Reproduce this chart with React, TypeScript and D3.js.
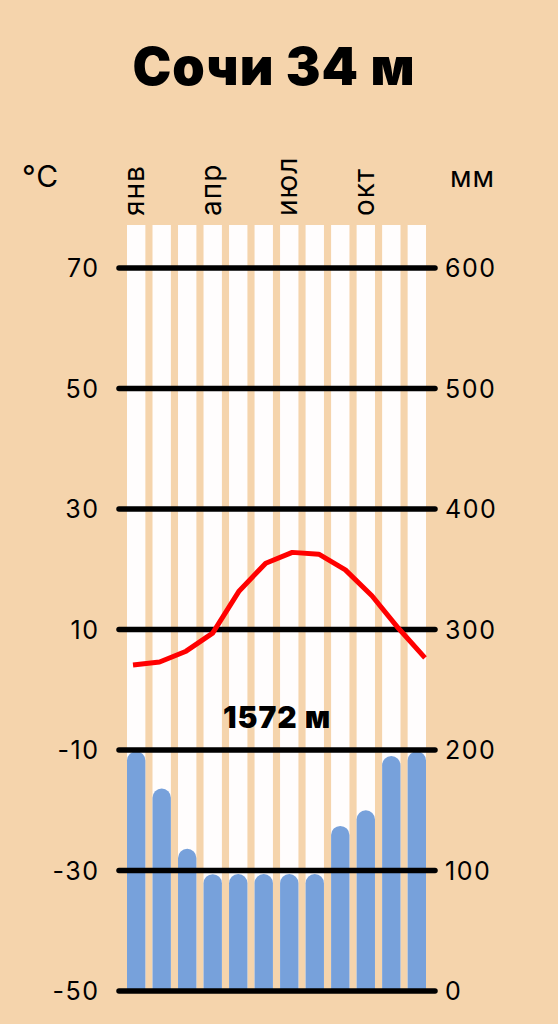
import React, { useRef, useEffect } from 'react';
import * as d3 from 'd3';

const months = ['янв', 'фев', 'мар', 'апр', 'май', 'июн', 'июл', 'авг', 'сен', 'окт', 'ноя', 'дек'];
const monthLabels = ['янв', 'апр', 'июл', 'окт'];
const temperature = [4.1, 4.6, 6.4, 9.4, 16.4, 21.0, 22.8, 22.5, 19.9, 15.6, 10.2, 5.3];
const precipitation = [199, 168, 118, 97, 97, 97, 97, 97, 137, 150, 195, 199];
const tempTicks = [70, 50, 30, 10, -10, -30, -50];
const precipTicks = [600, 500, 400, 300, 200, 100, 0];

const W = 558;
const H = 1024;
const BG = '#f5d4ac';
const FONT = 'Inter, "Noto Sans", sans-serif';

const App: React.FC = () => {
	const svgRef = useRef<SVGSVGElement | null>(null);

	useEffect(() => {
		const svg = d3.select(svgRef.current);
		svg.selectAll('*').remove();

		const top = 268;
		const bottom = 991;

		const x = d3.scaleBand<string>().domain(months).range([127, 426]).paddingInner(0.28).paddingOuter(0);
		const xLine = d3.scalePoint<string>().domain(months).range([133, 425]);
		const yT = d3.scaleLinear().domain([-50, 70]).range([bottom, top]);
		const yP = d3.scaleLinear().domain([0, 600]).range([bottom, top]);

		svg.append('rect').attr('width', W).attr('height', H).attr('fill', BG);

		// title
		svg.append('text')
			.attr('x', 274)
			.attr('y', 85)
			.attr('text-anchor', 'middle')
			.attr('font-family', FONT)
			.attr('font-weight', 900)
			.attr('font-size', 52)
			.attr('letter-spacing', 1)
			.attr('fill', '#000')
			.text('Сочи 34 м');

		// white column stripes
		svg.append('g')
			.selectAll('rect')
			.data(months)
			.join('rect')
			.attr('x', (d) => x(d) as number)
			.attr('y', 225)
			.attr('width', x.bandwidth())
			.attr('height', bottom - 225)
			.attr('fill', '#fffdfd');

		// precipitation bars with rounded tops
		const bw = x.bandwidth();
		const r = bw / 2;
		svg.append('g')
			.selectAll('path')
			.data(precipitation)
			.join('path')
			.attr('d', (d, i) => {
				const x0 = x(months[i]) as number;
				const yt = yP(d);
				return `M${x0},${bottom}V${yt + r}A${r},${r} 0 0 1 ${x0 + bw},${yt + r}V${bottom}Z`;
			})
			.attr('fill', '#77a1db');

		// total precipitation label
		svg.append('text')
			.attr('x', 277)
			.attr('y', 728)
			.attr('text-anchor', 'middle')
			.attr('font-family', FONT)
			.attr('font-weight', 900)
			.attr('font-size', 30)
			.attr('letter-spacing', 1)
			.attr('fill', '#000')
			.text('1572 м');

		// grid lines
		svg.append('g')
			.selectAll('line')
			.data(tempTicks)
			.join('line')
			.attr('x1', 119)
			.attr('x2', 435)
			.attr('y1', (d) => yT(d))
			.attr('y2', (d) => yT(d))
			.attr('stroke', '#000')
			.attr('stroke-width', 5.5)
			.attr('stroke-linecap', 'round');

		// temperature line
		const line = d3
			.line<number>()
			.x((_, i) => xLine(months[i]) as number)
			.y((d) => yT(d));
		svg.append('path')
			.datum(temperature)
			.attr('d', line)
			.attr('fill', 'none')
			.attr('stroke', '#ff0000')
			.attr('stroke-width', 5)
			.attr('stroke-linejoin', 'round');

		// left axis
		svg.append('g')
			.selectAll('text')
			.data(tempTicks)
			.join('text')
			.attr('x', 99.5)
			.attr('y', (d) => yT(d) + 9)
			.attr('text-anchor', 'end')
			.attr('font-family', FONT)
			.attr('font-size', 25)
			.attr('letter-spacing', 1.5)
			.attr('fill', '#000')
			.text((d) => (d < 0 ? '-' + Math.abs(d) : String(d)));

		svg.append('text')
			.attr('x', 22)
			.attr('y', 187)
			.attr('font-family', FONT)
			.attr('font-size', 30)
			.attr('letter-spacing', 1)
			.attr('fill', '#000')
			.text('°C');

		// right axis
		svg.append('g')
			.selectAll('text')
			.data(precipTicks)
			.join('text')
			.attr('x', 445)
			.attr('y', (d) => yP(d) + 9)
			.attr('font-family', FONT)
			.attr('font-size', 25)
			.attr('letter-spacing', 1.5)
			.attr('fill', '#000')
			.text((d) => String(d));

		svg.append('text')
			.attr('x', 450)
			.attr('y', 187)
			.attr('font-family', FONT)
			.attr('font-size', 28)
			.attr('letter-spacing', 1)
			.attr('fill', '#000')
			.text('мм');

		// month labels
		svg.append('g')
			.selectAll('text')
			.data(monthLabels)
			.join('text')
			.attr('transform', (d) => `translate(${(x(d) as number) + bw / 2 + 8},216) rotate(-90)`)
			.attr('font-family', FONT)
			.attr('font-size', 28)
			.attr('letter-spacing', 1)
			.attr('fill', '#000')
			.text((d) => d);
	}, []);

	return (
		<svg
			ref={svgRef}
			width={W}
			height={H}
			style={{ position: 'absolute', left: 0, top: 0, display: 'block' }}
		/>
	);
};

export default App;
